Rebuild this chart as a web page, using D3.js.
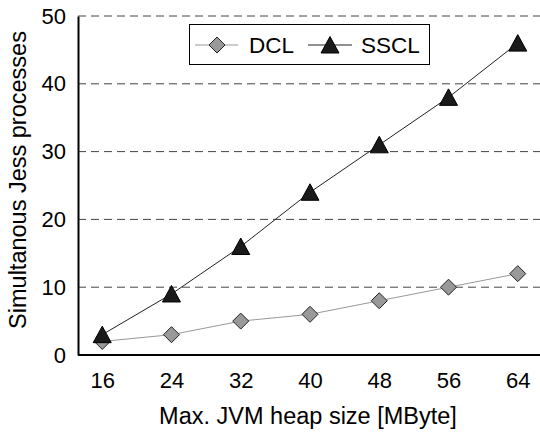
<!DOCTYPE html>
<html>
<head>
<meta charset="utf-8">
<script src="https://cdn.jsdelivr.net/npm/d3@7"></script>
<style>
  body { margin: 0; background: #fff; }
  text { font-family: "Liberation Sans", Arial, sans-serif; }
</style>
</head>
<body>
<div id="chart"></div>
<script>
// data
var heapSizes = [16, 24, 32, 40, 48, 56, 64];
var dclValues = [2, 3, 5, 6, 8, 10, 12];
var ssclValues = [3, 9, 16, 24, 31, 38, 46];
var yTicks = [0, 10, 20, 30, 40, 50];

var width = 540, height = 432;
var margin = {top: 16, right: -2, bottom: 77, left: 78};

var svg = d3.select("#chart").append("svg")
    .attr("width", width)
    .attr("height", height);

var x = d3.scalePoint()
    .domain(heapSizes)
    .range([margin.left, width - margin.right])
    .padding(0.35);

var y = d3.scaleLinear()
    .domain([0, 50])
    .range([height - margin.bottom, margin.top]);

// dashed grid
svg.selectAll(".grid")
  .data(yTicks.slice(1))
  .enter().append("line")
    .attr("class", "grid")
    .attr("x1", margin.left)
    .attr("x2", width)
    .attr("y1", function(d) { return y(d); })
    .attr("y2", function(d) { return y(d); })
    .style("stroke", "#444")
    .style("stroke-width", 1)
    .style("stroke-dasharray", "8,5");

// axes
var yAxis = svg.append("g")
    .attr("transform", "translate(" + margin.left + ",0)")
    .call(d3.axisLeft(y).tickValues(yTicks).tickSize(0).tickPadding(12));
var xAxis = svg.append("g")
    .attr("transform", "translate(0," + y(0) + ")")
    .call(d3.axisBottom(x).tickSize(0).tickPadding(17));
xAxis.select(".domain").attr("d", "M" + margin.left + ",0H" + width);

[xAxis, yAxis].forEach(function(a) {
  a.select(".domain").style("stroke", "#000").style("stroke-width", 2);
  a.selectAll("text").style("font-size", "22px").style("fill", "#000")
    .style("font-family", "'Liberation Sans', Arial, sans-serif");
});

// lines
var line = function(vals) {
  return d3.line()
    .x(function(d, i) { return x(heapSizes[i]); })
    .y(function(d) { return y(d); })(vals);
};

svg.append("path")
    .attr("d", line(dclValues))
    .style("fill", "none")
    .style("stroke", "#999")
    .style("stroke-width", 1);

svg.append("path")
    .attr("d", line(ssclValues))
    .style("fill", "none")
    .style("stroke", "#222")
    .style("stroke-width", 1);

var diamond = "M0,-8L8,0L0,8L-8,0Z";
var triangle = "M0,-8.5L9,8L-9,8Z";

svg.selectAll(".dcl")
  .data(dclValues)
  .enter().append("path")
    .attr("class", "dcl")
    .attr("d", diamond)
    .attr("transform", function(d, i) { return "translate(" + x(heapSizes[i]) + "," + y(d) + ")"; })
    .style("fill", "#999")
    .style("stroke", "#222")
    .style("stroke-width", 1);

svg.selectAll(".sscl")
  .data(ssclValues)
  .enter().append("path")
    .attr("class", "sscl")
    .attr("d", triangle)
    .attr("transform", function(d, i) { return "translate(" + x(heapSizes[i]) + "," + y(d) + ")"; })
    .style("fill", "#1a1a1a")
    .style("stroke", "#000")
    .style("stroke-width", 1);

// legend
var legend = svg.append("g");
legend.append("rect")
    .attr("x", 189.5).attr("y", 24.5)
    .attr("width", 240).attr("height", 40)
    .style("fill", "#fff")
    .style("stroke", "#000")
    .style("stroke-width", 1);

legend.append("line")
    .attr("x1", 195).attr("x2", 238).attr("y1", 45).attr("y2", 45)
    .style("stroke", "#999");
legend.append("path")
    .attr("d", diamond)
    .attr("transform", "translate(217,45)")
    .style("fill", "#999").style("stroke", "#222");
legend.append("text")
    .attr("x", 249).attr("y", 53)
    .style("font-size", "22.5px")
    .text("DCL");

legend.append("line")
    .attr("x1", 308).attr("x2", 352).attr("y1", 45).attr("y2", 45)
    .style("stroke", "#222");
legend.append("path")
    .attr("d", triangle)
    .attr("transform", "translate(330,45)")
    .style("fill", "#1a1a1a").style("stroke", "#000");
legend.append("text")
    .attr("x", 361).attr("y", 53)
    .style("font-size", "22.5px")
    .text("SSCL");

// axis titles
svg.append("text")
    .attr("x", 308).attr("y", 424)
    .attr("text-anchor", "middle")
    .style("font-size", "23.5px")
    .text("Max. JVM heap size [MByte]");

svg.append("text")
    .attr("transform", "translate(26," + 180 + ") rotate(-90)")
    .attr("text-anchor", "middle")
    .style("font-size", "23.5px")
    .text("Simultanous Jess processes");
</script>
</body>
</html>
